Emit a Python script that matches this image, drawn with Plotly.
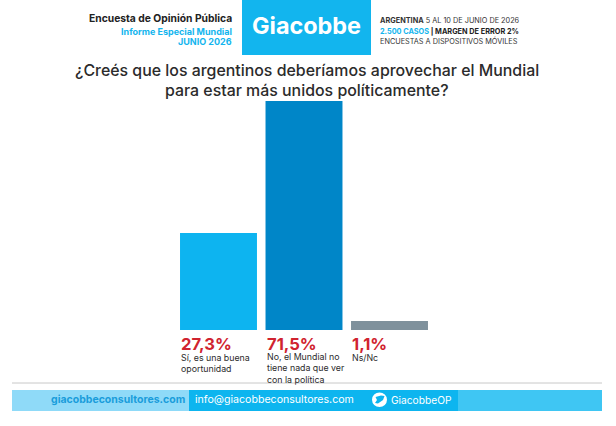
import plotly.graph_objects as go

# Values as printed on the chart
categories = ['Sí', 'No', 'Ns/Nc']
value_labels = ['27,3%', '71,5%', '1,1%']
cat_labels = ['Sí, es una buena<br>oportunidad',
              'No, el Mundial no<br>tiene nada que ver<br>con la política',
              'Ns/Nc']
# Bar heights as drawn in the picture (the original is not to scale with its labels)
bar_heights = [97, 229, 9]
bar_colors = ['#0db4f0', '#0086c8', '#7f919c']

W, H = 616, 426
FONT = 'Inter'
DARK = '#2b2b2b'
RED = '#d0232f'
CYAN = '#12b5ee'


def fx(px):
    return px / W


def fy(px):
    return 1 - px / H


def txt(x, y, text, size, color=DARK, anchor='left', weight='normal'):
    return dict(xref='paper', yref='paper', x=fx(x), y=fy(y), text=text, showarrow=False,
                xanchor=anchor, yanchor='middle', align=anchor,
                font=dict(family=FONT, size=size, color=color, weight=weight))


def box(x0, y0, x1, y1, color):
    return dict(type='rect', xref='paper', yref='paper', x0=fx(x0), x1=fx(x1),
                y0=fy(y0), y1=fy(y1), fillcolor=color, line_width=0, layer='below')


fig = go.Figure(go.Bar(x=categories, y=bar_heights, width=0.9,
                       marker=dict(color=bar_colors, line_width=0)))

annotations = [
    txt(234, 19, 'Encuesta de Opinión Pública', 10.3, '#222222', 'right', 'bold'),
    txt(234, 31, 'Informe Especial Mundial', 9, CYAN, 'right', 'bold'),
    txt(234, 41.5, 'JUNIO 2026', 9, CYAN, 'right', 'bold'),
    txt(306.5, 26, 'Giacobbe', 23.4, 'white', 'center', 'bold'),
    txt(378, 20, '<b>ARGENTINA</b> 5 AL 10 DE JUNIO DE 2026', 7.3, '#333333'),
    txt(378, 31, '<b><span style="color:#12b5ee">2.500 CASOS</span> | MARGEN DE ERROR 2%</b>', 7.3, '#222222'),
    txt(378, 41, 'ENCUESTAS A DISPOSITIVOS MÓVILES', 7.3, '#333333'),
    txt(306.5, 71, '¿Creés que los argentinos deberíamos aprovechar el Mundial', 15.9, DARK, 'center', 500),
    txt(306.5, 91, 'para estar más unidos políticamente?', 15.9, DARK, 'center', 500),
    txt(49, 399.5, 'giacobbeconsultores.com', 10.5, '#1a9ddb', 'left', 'bold'),
    txt(193, 399.5, 'info@giacobbeconsultores.com', 10.6, 'white'),
    txt(389, 399.5, 'GiacobbeOP', 10.2, 'white'),
]

label_x = [179, 264.5, 350]
for lx, val, cat in zip(label_x, value_labels, cat_labels):
    annotations.append(txt(lx, 343.5, val, 16.6, RED, 'left', 'bold'))
    n = cat.count('<br>') + 1
    annotations.append(txt(lx, 357.5 + (n - 1) * 5, cat, 8.8, DARK))

shapes = [
    box(242, 0, 371, 55, CYAN),
    box(12, 390, 189, 411, '#8fdaf8'),
    box(189, 390, 458, 411, '#0db5ef'),
    box(458, 390, 602, 411, '#3fc6f3'),
    dict(type='line', xref='paper', yref='paper', x0=fx(12), x1=fx(602), y0=fy(383), y1=fy(383),
         line=dict(color='#c8c8c8', width=1)),
    dict(type='circle', xref='paper', yref='paper', x0=fx(372), x1=fx(387), y0=fy(392.5), y1=fy(407),
         fillcolor='white', line_width=0),
    dict(type='path', xref='paper', yref='paper',
         path='M %.4f %.4f L %.4f %.4f L %.4f %.4f L %.4f %.4f L %.4f %.4f L %.4f %.4f L %.4f %.4f Z' % (
             fx(375), fy(403), fx(378), fy(403.5), fx(383), fy(400), fx(384.5), fy(396),
             fx(381), fy(395.5), fx(375.5), fy(397), fx(377), fy(400)),
         fillcolor='#0db5ef', line_width=0),
]

fig.update_layout(
    width=W, height=H, margin=dict(l=0, r=0, t=0, b=0),
    paper_bgcolor='white', plot_bgcolor='rgba(0,0,0,0)', showlegend=False,
    # axes run in picture pixels so bar spacing and baseline land where the original has them
    xaxis=dict(visible=False, range=[-218.5 / 85.5, (W - 218.5) / 85.5]),
    yaxis=dict(visible=False, range=[-(H - 330), 330]),
    annotations=annotations, shapes=shapes,
)

# drop the page's default body margin so the figure fills the window
fig.write_html('out.html', config={'displayModeBar': False},
               post_script='document.body.style.margin = "0";')
